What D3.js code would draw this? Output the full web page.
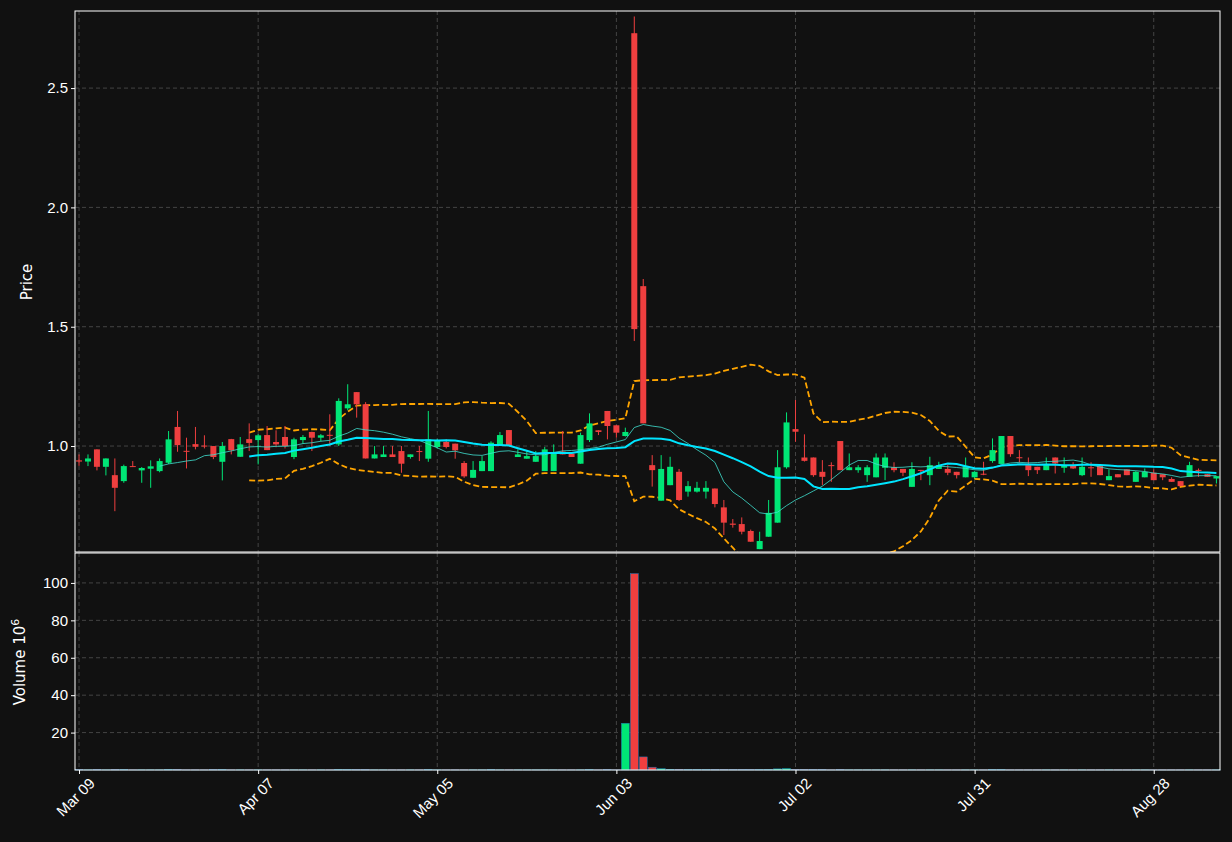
<!DOCTYPE html>
<html><head><meta charset="utf-8">
<script src="https://cdn.jsdelivr.net/npm/d3@7"></script>
<style>body{margin:0;background:#111111;}svg{display:block;font-family:"DejaVu Sans",sans-serif;}</style>
</head><body><svg id="c" width="1232" height="842"></svg>
<script>
const opens  = [0.94,0.935,0.986,0.913,0.878,0.853,0.916,0.898,0.905,0.895,0.93,1.08,0.98,1.008,1.002,1.0,0.934,1.029,0.955,1.029,1.025,1.046,1.017,1.038,0.954,1.025,1.059,1.035,1.047,1.007,1.158,1.226,1.175,0.948,0.954,0.965,0.979,0.954,0.979,0.947,0.996,1.017,1.01,0.929,0.867,0.895,0.895,1.004,1.067,0.954,0.947,0.934,0.895,0.895,0.977,0.968,0.926,1.025,1.066,1.147,1.087,1.042,2.73,1.67,0.92,0.771,0.836,0.892,0.809,0.809,0.809,0.822,0.743,0.675,0.673,0.644,0.568,0.62,0.679,0.911,1.071,0.952,0.952,0.892,0.92,1.021,0.899,0.899,0.878,0.869,0.909,0.911,0.904,0.829,0.9,0.878,0.904,0.904,0.892,0.869,0.869,0.884,0.937,0.925,1.042,0.953,0.92,0.913,0.899,0.952,0.909,0.919,0.878,0.911,0.916,0.857,0.882,0.902,0.85,0.869,0.888,0.882,0.862,0.853,0.871,0.9,0.882,0.864];
const closes = [0.935,0.948,0.913,0.948,0.825,0.916,0.914,0.908,0.915,0.937,1.028,1.004,0.977,0.997,1.0,0.954,1.0,0.982,1.007,1.013,1.045,0.983,1.007,1.0,1.028,1.038,1.035,1.045,1.045,1.189,1.175,1.175,0.948,0.965,0.965,0.954,0.926,0.965,0.977,1.028,1.025,0.996,0.982,0.873,0.9,0.937,1.014,1.046,1.0,0.965,0.958,0.958,0.986,0.968,0.965,0.954,1.046,1.095,1.059,1.084,1.056,1.059,1.49,1.095,0.899,0.904,0.913,0.774,0.832,0.825,0.825,0.757,0.679,0.67,0.641,0.599,0.602,0.72,0.911,1.099,1.06,0.938,0.878,0.871,0.917,0.899,0.911,0.911,0.911,0.952,0.952,0.899,0.888,0.904,0.899,0.92,0.92,0.888,0.878,0.916,0.892,0.882,0.983,1.042,0.966,0.95,0.899,0.899,0.92,0.927,0.92,0.906,0.913,0.909,0.878,0.874,0.869,0.878,0.892,0.892,0.857,0.869,0.85,0.832,0.92,0.898,0.871,0.874];
const highs  = [0.965,0.965,0.986,0.948,0.948,0.922,0.937,0.912,0.94,0.948,1.063,1.147,1.035,1.08,1.045,1.0,1.017,1.03,1.038,1.095,1.05,1.084,1.066,1.084,1.035,1.046,1.06,1.05,1.133,1.2,1.259,1.226,1.184,1.0,1.0,1.0,1.0,0.965,1.0,1.147,1.03,1.028,1.01,0.937,0.937,0.958,1.02,1.059,1.067,0.986,0.979,0.979,0.996,1.007,1.063,0.975,1.056,1.137,1.066,1.147,1.087,1.077,2.80,1.70,0.962,0.962,0.955,0.904,0.853,0.85,0.853,0.822,0.774,0.694,0.701,0.65,0.641,0.774,0.983,1.141,1.193,1.049,0.952,0.941,0.932,1.021,0.969,0.92,0.92,0.969,0.969,0.932,0.904,0.932,0.9,0.955,0.934,0.92,0.892,0.952,0.895,0.934,1.032,1.042,1.042,0.983,0.952,0.913,0.952,0.952,0.952,0.932,0.952,0.932,0.916,0.902,0.882,0.902,0.895,0.906,0.902,0.882,0.869,0.853,0.934,0.906,0.882,0.874];
const lows   = [0.917,0.916,0.898,0.877,0.727,0.846,0.912,0.846,0.825,0.89,0.925,0.976,0.906,0.986,0.99,0.945,0.856,0.965,0.955,0.979,0.923,0.983,0.995,0.99,0.945,1.01,0.979,1.02,1.0,1.0,1.15,1.119,0.948,0.948,0.954,0.954,0.888,0.947,0.937,0.934,0.99,0.99,0.947,0.867,0.867,0.895,0.895,1.0,1.0,0.954,0.947,0.934,0.895,0.895,0.965,0.954,0.926,1.017,1.046,1.028,1.035,1.04,1.44,1.095,0.83,0.771,0.836,0.77,0.788,0.805,0.78,0.743,0.627,0.658,0.63,0.599,0.568,0.62,0.679,0.905,1.018,0.935,0.871,0.836,0.85,0.899,0.899,0.888,0.85,0.869,0.857,0.89,0.874,0.829,0.857,0.836,0.904,0.878,0.864,0.869,0.864,0.878,0.93,0.925,0.955,0.93,0.874,0.883,0.899,0.885,0.888,0.904,0.874,0.871,0.878,0.857,0.869,0.878,0.85,0.869,0.857,0.857,0.85,0.832,0.871,0.871,0.871,0.843];
const volumes = [0.2,0.1,0.2,0.1,0.3,0.2,0.1,0.1,0.1,0.1,0.3,0.3,0.1,0.1,0.1,0.2,0.2,0.1,0.1,0.1,0.1,0.1,0.1,0.1,0.1,0.1,0.1,0.1,0.1,0.3,0.2,0.2,0.2,0.1,0.1,0.1,0.1,0.1,0.1,0.2,0.1,0.1,0.1,0.1,0.1,0.1,0.2,0.1,0.1,0.1,0.1,0.1,0.1,0.1,0.1,0.1,0.1,0.2,0.1,0.2,0.1,25,105,7,1.5,0.7,0.4,0.4,0.2,0.2,0.2,0.2,0.3,0.2,0.2,0.2,0.2,0.3,0.6,0.8,0.4,0.3,0.2,0.2,0.1,0.2,0.1,0.1,0.1,0.1,0.1,0.1,0.1,0.1,0.1,0.1,0.1,0.1,0.1,0.1,0.1,0.1,0.2,0.2,0.1,0.1,0.1,0.1,0.1,0.1,0.1,0.1,0.1,0.1,0.1,0.1,0.1,0.1,0.1,0.1,0.1,0.1,0.1,0.1,0.1,0.1,0.1,0.1];
const tickIdx = [0,20,40,60,80,100,120];
const tickLabels = ["Mar 09","Apr 07","May 05","Jun 03","Jul 02","Jul 31","Aug 28"];
const priceTicks = [1.0,1.5,2.0,2.5];
const volTicks = [20,40,60,80,100];

const UP="#00e676", DN="#ef3f3f", GRID="#444444", FG="#ffffff";
const svg=d3.select("#c");
svg.append("rect").attr("width",1232).attr("height",842).attr("fill","#111111");
const L=75,R=1220,PT=11,PB=552,VT=553,VB=770;
const x=d3.scaleLinear().domain([-0.45,127.4]).range([L,R]);
const y=d3.scaleLinear().domain([0.556,2.823]).range([PB,PT]);
const yv=d3.scaleLinear().domain([0,116]).range([VB,VT]);
const n=closes.length, idx=d3.range(n);

function grid(g,scale,ticks){
  g.selectAll(".h").data(ticks).join("line").attr("x1",L).attr("x2",R)
   .attr("y1",d=>scale(d)).attr("y2",d=>scale(d)).attr("stroke",GRID).attr("stroke-dasharray","4,3");
}
const gp=svg.append("g"), gv=svg.append("g");
grid(gp,y,priceTicks); grid(gv,yv,volTicks);
[gp,gv].forEach((g,k)=>g.selectAll(".v").data(tickIdx).join("line")
  .attr("x1",d=>x(d)).attr("x2",d=>x(d)).attr("y1",k?VT:PT).attr("y2",k?VB:PB)
  .attr("stroke",GRID).attr("stroke-dasharray","4,3"));

svg.append("clipPath").attr("id","pc").append("rect").attr("x",L).attr("y",PT).attr("width",R-L).attr("height",PB-PT);
const pc=svg.append("g").attr("clip-path","url(#pc)");

function sma(p){return idx.map(i=>i<p-1?null:d3.mean(closes.slice(i-p+1,i+1)));}
function sd(p){return idx.map(i=>i<p-1?null:d3.deviation(closes.slice(i-p+1,i+1)));}
const m10=sma(10), m20=sma(20), s20=sd(20);
const up=idx.map(i=>m20[i]==null?null:m20[i]+2*s20[i]);
const lo=idx.map(i=>m20[i]==null?null:m20[i]-2*s20[i]);
const line=arr=>d3.line().defined(i=>arr[i]!=null).x(i=>x(i)).y(i=>y(arr[i]))(idx);
pc.append("path").attr("d",line(up)).attr("fill","none").attr("stroke","#ffa500").attr("stroke-width",1.8).attr("stroke-dasharray","6,3");
pc.append("path").attr("d",line(lo)).attr("fill","none").attr("stroke","#ffa500").attr("stroke-width",1.8).attr("stroke-dasharray","6,3");

const bw=6;
pc.selectAll(".w").data(idx).join("line").attr("x1",i=>x(i)).attr("x2",i=>x(i))
  .attr("y1",i=>y(highs[i])).attr("y2",i=>y(lows[i])).attr("stroke",i=>closes[i]>=opens[i]?UP:DN).attr("stroke-width",1);
pc.selectAll(".b").data(idx).join("rect").attr("x",i=>x(i)-bw/2).attr("width",bw)
  .attr("y",i=>y(Math.max(opens[i],closes[i]))).attr("height",i=>Math.max(1,Math.abs(y(opens[i])-y(closes[i]))))
  .attr("fill",i=>closes[i]>=opens[i]?UP:DN);
pc.append("path").attr("d",line(m10)).attr("fill","none").attr("stroke","#40e0d0").attr("stroke-opacity",0.8).attr("stroke-width",1);
pc.append("path").attr("d",line(m20)).attr("fill","none").attr("stroke","#00e5ff").attr("stroke-width",2);

gv.selectAll(".vb").data(idx).join("rect").attr("x",i=>x(i)-4).attr("width",8)
  .attr("y",i=>yv(volumes[i])).attr("height",i=>VB-yv(volumes[i]))
  .attr("fill",i=>closes[i]>=opens[i]?UP:DN).attr("stroke","#1f77b4").attr("stroke-width",0.5);

[[PT,PB],[VT,VB]].forEach(([a,b])=>svg.append("rect").attr("x",L).attr("y",a).attr("width",R-L).attr("height",b-a)
  .attr("fill","none").attr("stroke",FG).attr("stroke-width",1));

const ya=svg.append("g").attr("transform",`translate(${L},0)`).call(d3.axisLeft(y).tickValues(priceTicks).tickFormat(d3.format(".1f")).tickSize(4));
const yva=svg.append("g").attr("transform",`translate(${L},0)`).call(d3.axisLeft(yv).tickValues(volTicks).tickSize(4));
const xa=svg.append("g").attr("transform",`translate(0,${VB})`).call(d3.axisBottom(x).tickValues(tickIdx).tickFormat((d,i)=>tickLabels[i]).tickSize(4));
[ya,yva,xa].forEach(a=>{a.select(".domain").remove();a.selectAll("line").attr("stroke",FG);a.selectAll("text").attr("fill",FG).attr("font-size",15);});
xa.selectAll("text").attr("text-anchor","end").attr("transform","translate(5,3) rotate(-45)").attr("dx",0).attr("dy","0.6em");

svg.append("text").attr("transform","translate(32,282) rotate(-90)").attr("text-anchor","middle").attr("fill",FG).attr("font-size",15).text("Price");
const vt=svg.append("text").attr("transform","translate(25,662) rotate(-90)").attr("text-anchor","middle").attr("fill",FG).attr("font-size",15);
vt.append("tspan").text("Volume  10");
vt.append("tspan").attr("dy",-6).attr("font-size",11).text("6");
</script></body></html>
